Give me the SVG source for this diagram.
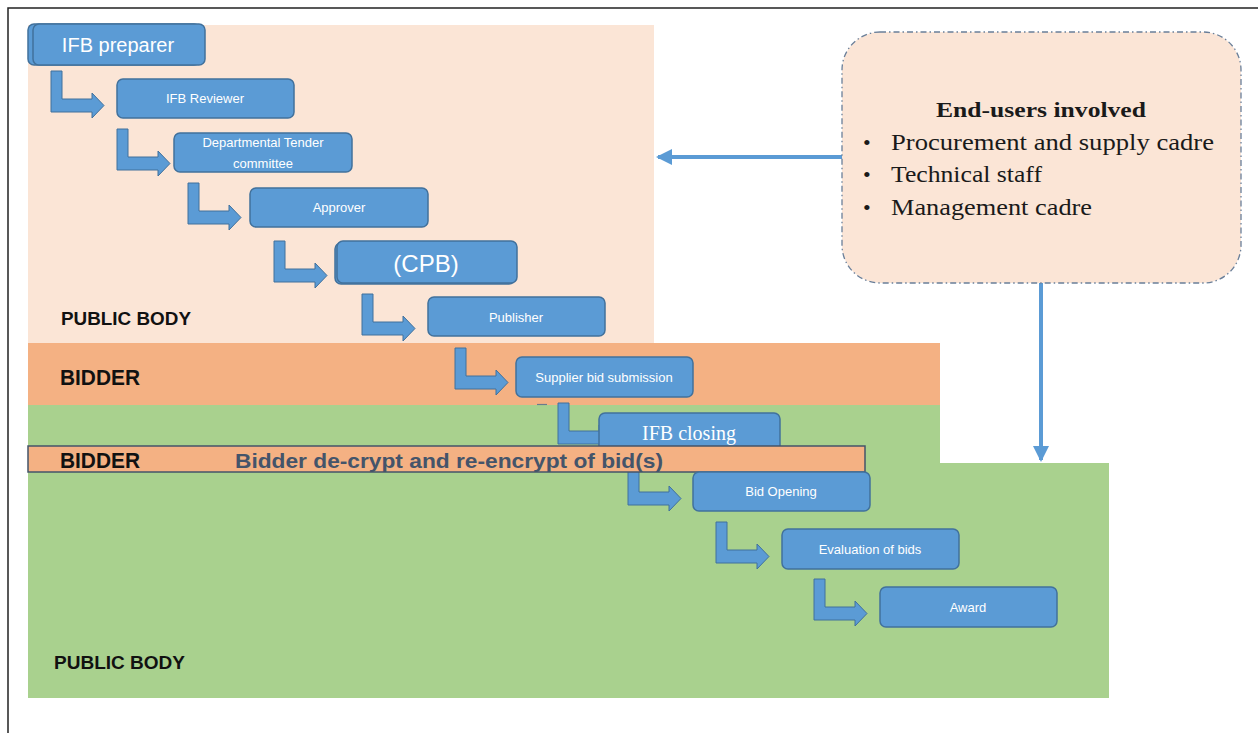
<svg xmlns="http://www.w3.org/2000/svg" xmlns:xlink="http://www.w3.org/1999/xlink" width="1258" height="733" viewBox="0 0 1258 733">
<style>
.box{fill:#5B9BD5;stroke:#41719C;stroke-width:1.5}
.bt{font-family:"Liberation Sans",Arial,sans-serif;fill:#fff;text-anchor:middle}
.lane{font-family:"Liberation Sans",Arial,sans-serif;font-weight:bold;fill:#111}
.ser{font-family:"Liberation Serif","Times New Roman",serif;fill:#1a1a1a}
.bent{fill:#5B9BD5;stroke:#41719C;stroke-width:1}
.conn{stroke:#5B9BD5;stroke-width:4;fill:none}
</style>
<defs>
<path id="bent" d="M0,0 H11 V28 H41 V22 L53,34.5 L41,47 V41 H0 Z"/>
<marker id="ah" markerWidth="4" markerHeight="4" refX="3.5" refY="2" orient="auto" markerUnits="strokeWidth">
<path d="M0,0 L4,2 L0,4 Z" fill="#5B9BD5"/>
</marker>
</defs>
<rect width="1258" height="733" fill="#fff"/>
<path d="M8,733 V8 H1258" fill="none" stroke="#222" stroke-width="1.5"/>

<g id="lanes">
<rect x="28" y="25" width="626" height="318" fill="#FBE5D6"/>
<rect x="28" y="343" width="912" height="62" fill="#F4B183"/>
<rect x="28" y="405" width="912" height="60" fill="#A9D18E"/>
<rect x="28" y="463" width="1081" height="235" fill="#A9D18E"/>
<text class="lane" x="61" y="325" font-size="18" textLength="130" lengthAdjust="spacingAndGlyphs">PUBLIC BODY</text>
<text class="lane" x="60" y="385" font-size="22" textLength="80" lengthAdjust="spacingAndGlyphs">BIDDER</text>
<text class="lane" x="54" y="669" font-size="18" textLength="131" lengthAdjust="spacingAndGlyphs">PUBLIC BODY</text>
</g>

<g id="connectors">
<use xlink:href="#bent" href="#bent" class="bent" x="51" y="71"/>
<use xlink:href="#bent" href="#bent" class="bent" x="117" y="129"/>
<use xlink:href="#bent" href="#bent" class="bent" x="188" y="183"/>
<use xlink:href="#bent" href="#bent" class="bent" x="274" y="241"/>
<use xlink:href="#bent" href="#bent" class="bent" x="362" y="294"/>
<use xlink:href="#bent" href="#bent" class="bent" x="455" y="348"/>
<use xlink:href="#bent" href="#bent" class="bent" x="558" y="403"/>
<use xlink:href="#bent" href="#bent" class="bent" x="628" y="464"/>
<use xlink:href="#bent" href="#bent" class="bent" x="716" y="522"/>
<use xlink:href="#bent" href="#bent" class="bent" x="814" y="579"/>
<line x1="537" y1="404.5" x2="547" y2="404.5" stroke="#6b7b8c" stroke-width="1.2"/>
<line class="conn" x1="842" y1="157" x2="658" y2="157" marker-end="url(#ah)"/>
<line class="conn" x1="1041" y1="283" x2="1041" y2="460" marker-end="url(#ah)"/>
</g>

<g id="n-ifb-preparer">
<rect class="box" x="28" y="24" width="172" height="41" rx="6"/>
<rect class="box" x="33" y="24" width="172" height="41" rx="6"/>
<text class="bt" x="118" y="52" style="font-size:20px">IFB preparer</text>
</g>
<g id="n-ifb-reviewer">
<rect class="box" x="117" y="79" width="177" height="39" rx="6"/>
<text class="bt" x="205" y="103" style="font-size:13px">IFB Reviewer</text>
</g>
<g id="n-dept-tender">
<rect class="box" x="174" y="133" width="178" height="39" rx="6"/>
<text class="bt" x="263" y="147" style="font-size:13px">Departmental Tender</text>
<text class="bt" x="263" y="168" style="font-size:13px">committee</text>
</g>
<g id="n-approver">
<rect class="box" x="250" y="188" width="178" height="39" rx="6"/>
<text class="bt" x="339" y="212" style="font-size:13px">Approver</text>
</g>
<g id="n-cpb">
<rect class="box" x="335" y="243" width="180" height="41" rx="6"/>
<rect class="box" x="337" y="241" width="180" height="42" rx="6"/>
<text class="bt" x="426" y="272" style="font-size:24px">(CPB)</text>
</g>
<g id="n-publisher">
<rect class="box" x="428" y="297" width="177" height="39" rx="6"/>
<text class="bt" x="516" y="322" style="font-size:13px">Publisher</text>
</g>
<g id="n-supplier-bid">
<rect class="box" x="516" y="357" width="177" height="40" rx="6"/>
<text class="bt" x="604" y="382" style="font-size:13px">Supplier bid submission</text>
</g>
<g id="n-ifb-closing">
<rect class="box" x="599" y="413" width="181" height="50" rx="6"/>
<text class="bt" x="689" y="440" style="font-size:20px;font-family:'Liberation Serif','Times New Roman',serif">IFB closing</text>
</g>
<g id="n-bidder-strip">
<rect x="28" y="446" width="837" height="26" fill="#F4B183" stroke="#44546A" stroke-width="1.5"/>
<text class="lane" x="60" y="468" font-size="22" textLength="80" lengthAdjust="spacingAndGlyphs">BIDDER</text>
<text x="235" y="468" font-family="Liberation Sans, Arial, sans-serif" font-weight="bold" font-size="21" fill="#44546A" textLength="428" lengthAdjust="spacingAndGlyphs">Bidder de-crypt and re-encrypt of bid(s)</text>
</g>
<g id="n-bid-opening">
<rect class="box" x="693" y="472" width="177" height="39" rx="6"/>
<text class="bt" x="781" y="496" style="font-size:13px">Bid Opening</text>
</g>
<g id="n-evaluation">
<rect class="box" x="782" y="529" width="177" height="40" rx="6"/>
<text class="bt" x="870" y="554" style="font-size:13px">Evaluation of bids</text>
</g>
<g id="n-award">
<rect class="box" x="880" y="587" width="177" height="40" rx="6"/>
<text class="bt" x="968" y="612" style="font-size:13px">Award</text>
</g>

<g id="n-end-users">
<rect x="842" y="32" width="399" height="251" rx="38" fill="#FBE5D6" stroke="#6A7F99" stroke-width="1.3" stroke-dasharray="6 3 1.5 3"/>
<text class="ser" x="1041" y="117" font-size="22" font-weight="bold" text-anchor="middle" textLength="210" lengthAdjust="spacingAndGlyphs">End-users involved</text>
<text class="ser" x="863" y="150" font-size="22">•</text>
<text class="ser" x="891" y="150" font-size="23" textLength="323" lengthAdjust="spacingAndGlyphs">Procurement and supply cadre</text>
<text class="ser" x="863" y="182" font-size="22">•</text>
<text class="ser" x="891" y="182" font-size="23" textLength="151" lengthAdjust="spacingAndGlyphs">Technical staff</text>
<text class="ser" x="863" y="215" font-size="22">•</text>
<text class="ser" x="891" y="215" font-size="23" textLength="201" lengthAdjust="spacingAndGlyphs">Management cadre</text>
</g>
</svg>
